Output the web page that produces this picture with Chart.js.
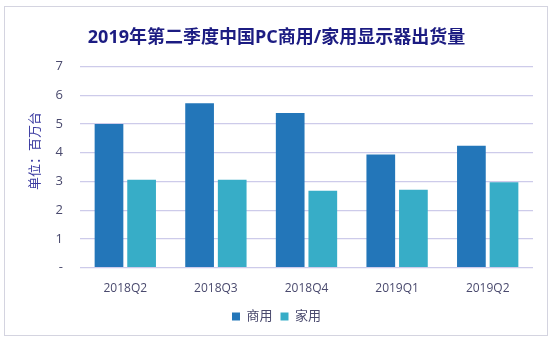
<!DOCTYPE html>
<html>
<head>
<meta charset="utf-8">
<script src="https://cdn.jsdelivr.net/npm/chart.js@4"></script>
<style>
  body { margin: 0; background: #fff; }
  #frame {
    position: absolute; left: 4px; top: 6px; width: 544px; height: 330px;
    border: 1px solid #d4d4e0; box-sizing: border-box;
  }
  #wrap { position: absolute; left: 0; top: 0; width: 553px; height: 338px; }
</style>
</head>
<body>
<div id="frame"></div>
<div id="wrap"><canvas id="monitorChart"></canvas></div>
<script>
const quarters = ["2018Q2", "2018Q3", "2018Q4", "2019Q1", "2019Q2"];
const commercial = [5.0, 5.72, 5.38, 3.94, 4.24];
const household = [3.06, 3.06, 2.68, 2.71, 2.97];
const seriesNames = ["商用", "家用"];
const unitText = "单位：百万台";

const font = "'Open Sans', 'Noto Sans CJK SC', sans-serif";
const gridColor = "#cdcbea";

// vertical unit label, sitting a little above the middle of the plot
const unitLabel = {
  id: "unitLabel",
  afterDraw(chart) {
    const { ctx, chartArea } = chart;
    const y = chartArea.top + (chartArea.bottom - chartArea.top) * 0.42;
    ctx.save();
    ctx.translate(35, y);
    ctx.rotate(-Math.PI / 2);
    ctx.fillStyle = "#3a3aa0";
    ctx.font = "13px " + font;
    ctx.textAlign = "center";
    ctx.textBaseline = "middle";
    ctx.fillText(unitText, 0, 0);
    ctx.restore();
  }
};

const ctx = document.getElementById("monitorChart").getContext("2d");
new Chart(ctx, {
  type: "bar",
  data: {
    labels: quarters,
    datasets: [
      { label: seriesNames[0], data: commercial, backgroundColor: "#2376b9" },
      { label: seriesNames[1], data: household, backgroundColor: "#37adc7" }
    ]
  },
  options: {
    responsive: true,
    maintainAspectRatio: false,
    animation: false,
    layout: { padding: { left: 20, right: 20, top: 27, bottom: 5 } },
    datasets: { bar: { categoryPercentage: 0.72, barPercentage: 0.88 } },
    plugins: {
      title: {
        display: true,
        text: "2019年第二季度中国PC商用/家用显示器出货量",
        color: "#1c1c82",
        font: { family: font, size: 18, weight: "bold" },
        padding: { top: 0, bottom: 18 }
      },
      legend: {
        position: "bottom",
        labels: {
          color: "#4a4a6e",
          font: { family: font, size: 13 },
          boxWidth: 8,
          boxHeight: 8,
          padding: 8
        }
      },
      tooltip: { enabled: false }
    },
    scales: {
      x: {
        grid: { display: false },
        border: { display: false },
        ticks: { color: "#4a4a6e", font: { family: font, size: 12 }, padding: 6 }
      },
      y: {
        min: 0,
        max: 7,
        afterFit(scale) { scale.width = 60; },
        ticks: {
          stepSize: 1,
          color: "#4a4a6e",
          font: { family: font, size: 13 },
          padding: 17,
          callback: v => (v === 0 ? "-" : v)
        },
        grid: { color: gridColor, lineWidth: 1.2, drawTicks: false },
        border: { display: false }
      }
    }
  },
  plugins: [unitLabel]
});
</script>
</body>
</html>
